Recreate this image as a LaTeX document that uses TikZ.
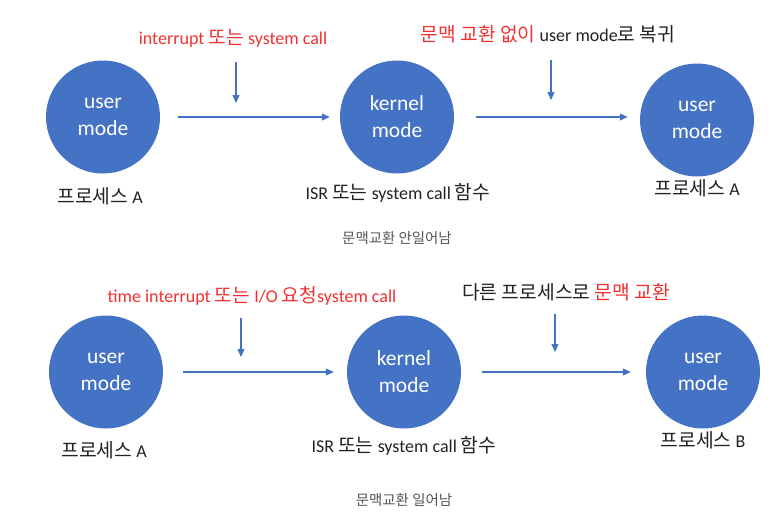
\documentclass[tikz,border=0pt]{standalone}
\usepackage{fontspec}
\setmainfont{Carlito}
\newfontfamily\kr[Scale=1.07]{Noto Sans CJK KR}
\usetikzlibrary{arrows.meta,shapes.geometric}
\newcommand\K[1]{{\kr #1}}
\definecolor{cblue}{HTML}{4472C4}
\definecolor{cred}{HTML}{F23030}
\definecolor{cgray}{HTML}{555555}
\definecolor{ctext}{HTML}{222222}
\tikzset{
  modenode/.style={ellipse,fill=cblue,minimum width=114pt,minimum height=113pt,inner sep=0pt,
    text=white,align=center,font=\fontsize{21.5}{27}\selectfont},
  conn/.style={draw=cblue,line width=1.1pt,-{Triangle[length=8pt,width=7pt]}},
  lab/.style={inner sep=0pt,font=\fontsize{18}{20}\selectfont,text=ctext},
  captext/.style={inner sep=0pt,font=\fontsize{13.5}{15}\selectfont,text=cgray},
}
\begin{document}
\begin{tikzpicture}[x=1pt,y=-1pt]
\useasboundingbox (0,0) rectangle (784,514);
% top row
\node[modenode] (a1) at (103,117) {user\\mode};
\node[modenode] (a2) at (397,117) {kernel\\mode};
\node[modenode] (a3) at (697,120) {user\\mode};
\draw[conn,shorten <=18pt,shorten >=10pt] (a1.east) -- (a2.west);
\draw[conn,shorten <=22pt,shorten >=12pt] (a2.east) -- (a3.west |- a2.east);
\node[lab,text=cred] (ta) at (233,38) {interrupt \K{또는} system call};
\node[lab] (tb) at (548,34) {\textcolor{cred}{\K{문맥 교환 없이}} user mode\K{로 복귀}};
\coordinate (da1) at (236,62); \coordinate (da2) at (236,103);
\coordinate (db1) at (551,60); \coordinate (db2) at (551,100);
\draw[conn] (da1) -- (da2);
\draw[conn] (db1) -- (db2);
\node[lab] (pa1) at (100,196) {\K{프로세스} A};
\node[lab] (pa2) at (398,193) {ISR \K{또는} system call \K{함수}};
\node[lab] (pa3) at (697,188) {\K{프로세스} A};
\node[captext] (c1) at (397,238) {\K{문맥교환 안일어남}};
% bottom row
\node[modenode] (b1) at (106,372) {user\\mode};
\node[modenode] (b2) at (404,372) {kernel\\mode};
\node[modenode] (b3) at (703,372) {user\\mode};
\draw[conn,shorten <=20pt,shorten >=13pt] (b1.east) -- (b2.west);
\draw[conn,shorten <=21pt,shorten >=15pt] (b2.east) -- (b3.west);
\node[lab,text=cred] (tc) at (252,296) {time interrupt \K{또는} I/O \K{요청}system call};
\node[lab] (td) at (566,292) {\K{다른 프로세스로} \textcolor{cred}{\K{문맥 교환}}};
\coordinate (dc1) at (241,318); \coordinate (dc2) at (241,357);
\coordinate (dd1) at (555,314); \coordinate (dd2) at (555,352);
\draw[conn] (dc1) -- (dc2);
\draw[conn] (dd1) -- (dd2);
\node[lab] (pb1) at (104,450) {\K{프로세스} A};
\node[lab] (pb2) at (404,446) {ISR \K{또는} system call \K{함수}};
\node[lab] (pb3) at (703,440) {\K{프로세스} B};
\node[captext] (c2) at (404,500) {\K{문맥교환 일어남}};
\end{tikzpicture}
\end{document}
